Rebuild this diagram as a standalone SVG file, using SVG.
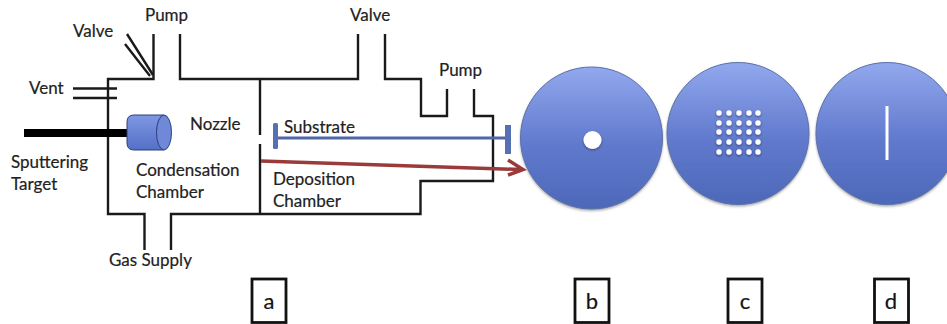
<svg xmlns="http://www.w3.org/2000/svg" width="947" height="324" viewBox="0 0 947 324">
<style>
.w{fill:none;stroke:#1a1a1a;stroke-width:2.4;stroke-linejoin:miter}
text{font-family:Lato,"Liberation Sans",sans-serif;font-size:17px;fill:#222;stroke:#222;stroke-width:.2}
.l{font-size:22px;fill:#111;text-anchor:middle}
.b{fill:#fff;stroke:#111;stroke-width:2.800}
.d{fill:url(#disc);stroke:#5b71a8;stroke-width:1;filter:url(#sh)}
.p{fill:#fff;filter:url(#ds)}
</style>
<defs>
<linearGradient id="disc" x1="0" y1="0" x2="0" y2="1"><stop offset="0" stop-color="#92a8ee"/><stop offset=".55" stop-color="#6079cc"/><stop offset="1" stop-color="#4d69b9"/></linearGradient>
<linearGradient id="cyl" x1="0" y1="0" x2="0" y2="1"><stop offset="0" stop-color="#7f98e4"/><stop offset="1" stop-color="#5470c6"/></linearGradient>
<filter id="sh" x="-10%" y="-10%" width="120%" height="120%"><feDropShadow dx="0" dy="1.500" stdDeviation="1.200" flood-color="#555" flood-opacity=".5"/></filter>
<filter id="ds" x="-50%" y="-50%" width="200%" height="200%"><feDropShadow dx="0" dy="1" stdDeviation="1" flood-color="#223" flood-opacity=".6"/></filter>
</defs>
<g id="connectors">
<path class="w" d="M153.500 34V79H108V214H144.500V250M171 250V214H420.500V181H493V116H474V89M447 89V116H421V79H385V34M358 34V79H180V34"/>
<path class="w" d="M260 79V135M260 144V214"/>
<path class="w" d="M127 34L153 75M125 44L150 76"/>
<path class="w" d="M73 88.500H117M73 98H117"/>
<path fill="none" stroke="#000" stroke-width="8" d="M24 133H128"/>
<path fill="none" stroke="#4f66a8" stroke-width="3" d="M277 138H505"/>
<path fill="none" stroke="#9a3a3a" stroke-width="3.500" d="M261 161L520 169.500M508 160L523 169.500L508 175"/>
</g>
<g id="sputter-head">
<path d="M134 115H164V150H134Q127 150 127 143V122Q127 115 134 115Z" fill="url(#cyl)" stroke="#2c3f78" stroke-width="1"/>
<ellipse cx="164" cy="132.500" rx="7.500" ry="17.500" fill="#6f88d8" stroke="#2c3f78" stroke-width="1"/>
</g>
<g id="substrate-small"><rect x="273" y="123" width="5" height="26" rx="1.500" fill="#5670b4"/></g>
<g id="substrate-large"><rect x="505" y="125" width="6" height="29" fill="#5670b4"/></g>
<g id="disc-b"><circle class="d" cx="591.500" cy="138" r="71"/><circle class="p" cx="592.500" cy="140" r="9"/></g>
<g id="disc-c"><circle class="d" cx="738" cy="133.500" r="71"/>
<g id="dots">
<circle class="p" cx="719" cy="113" r="2.700"/><circle class="p" cx="729" cy="113" r="2.700"/><circle class="p" cx="739" cy="113" r="2.700"/><circle class="p" cx="749" cy="113" r="2.700"/><circle class="p" cx="758" cy="113" r="2.700"/>
<circle class="p" cx="719" cy="123" r="2.700"/><circle class="p" cx="729" cy="123" r="2.700"/><circle class="p" cx="739" cy="123" r="2.700"/><circle class="p" cx="749" cy="123" r="2.700"/><circle class="p" cx="758" cy="123" r="2.700"/>
<circle class="p" cx="719" cy="132" r="2.700"/><circle class="p" cx="729" cy="132" r="2.700"/><circle class="p" cx="739" cy="132" r="2.700"/><circle class="p" cx="749" cy="132" r="2.700"/><circle class="p" cx="758" cy="132" r="2.700"/>
<circle class="p" cx="719" cy="142" r="2.700"/><circle class="p" cx="729" cy="142" r="2.700"/><circle class="p" cx="739" cy="142" r="2.700"/><circle class="p" cx="749" cy="142" r="2.700"/><circle class="p" cx="758" cy="142" r="2.700"/>
<circle class="p" cx="719" cy="152" r="2.700"/><circle class="p" cx="729" cy="152" r="2.700"/><circle class="p" cx="739" cy="152" r="2.700"/><circle class="p" cx="749" cy="152" r="2.700"/><circle class="p" cx="758" cy="152" r="2.700"/>
</g></g>
<g id="disc-d"><circle class="d" cx="887" cy="133.500" r="71"/><rect x="885.500" y="106" width="3" height="54" fill="#fff"/></g>
<g id="labels">
<text x="145" y="21">Pump</text>
<text x="73" y="37">Valve</text>
<text x="29" y="94">Vent</text>
<text x="11" y="168">Sputtering</text>
<text x="11" y="190">Target</text>
<text x="190" y="130">Nozzle</text>
<text x="136" y="176">Condensation</text>
<text x="136" y="198">Chamber</text>
<text x="109" y="266">Gas Supply</text>
<text x="350" y="21">Valve</text>
<text x="439" y="76">Pump</text>
<text x="284" y="133">Substrate</text>
<text x="273" y="185">Deposition</text>
<text x="273" y="207">Chamber</text>
</g>
<g id="box-a"><rect class="b" x="252" y="279" width="34" height="43.500"/><text class="l" x="269" y="309">a</text></g>
<g id="box-b"><rect class="b" x="575" y="279" width="34" height="43.500"/><text class="l" x="592" y="309">b</text></g>
<g id="box-c"><rect class="b" x="728" y="279" width="34" height="43.500"/><text class="l" x="745" y="309">c</text></g>
<g id="box-d"><rect class="b" x="874.500" y="279" width="34" height="43.500"/><text class="l" x="891" y="309">d</text></g>
</svg>
